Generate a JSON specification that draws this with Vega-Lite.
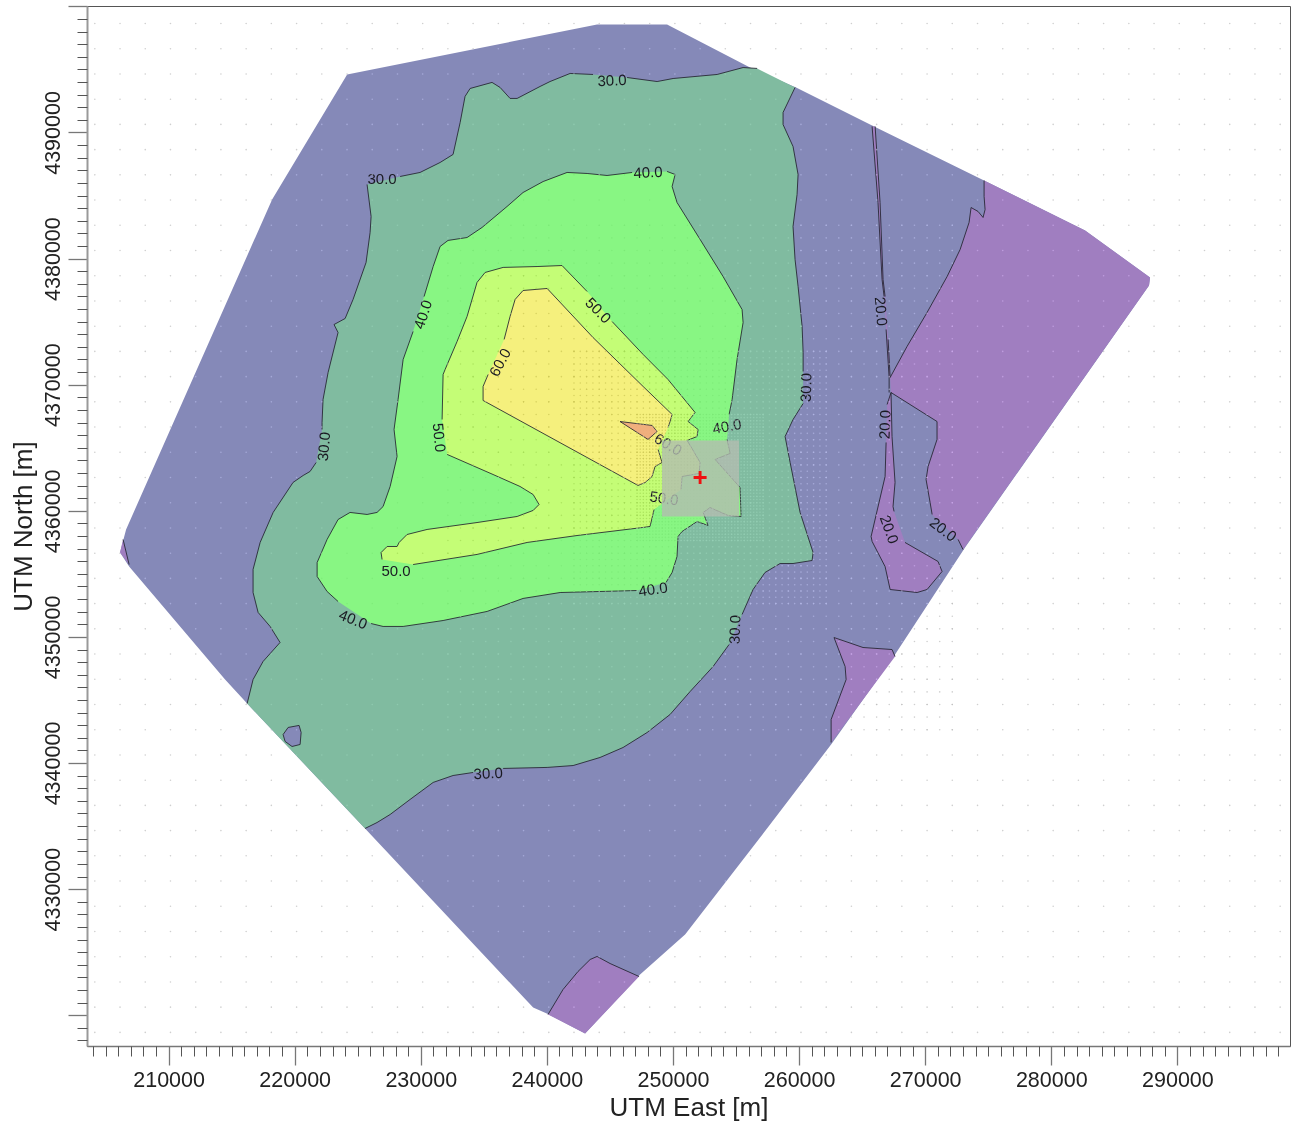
{
"$schema":"https://vega.github.io/schema/vega-lite/v6.json",
"width":1203,"height":1040,
"autosize":{"type":"none"},
"padding":{"left":87,"top":6,"right":1,"bottom":82},
"background":"white",
"config":{"view":{"stroke":"#555","strokeWidth":1}},
"datasets":{
"zones":[
{"z":"20-30","p":"outer","s":0,"x":[243980,249530,256110,259760,265790,274670,282680,287830,287750,273160,267610,262540,257700,250960,247390,243030,240170,238910,225580,216230,214480,206870,206150,206630,218210,224160],"y":[4398560,4398560,4395150,4393570,4390560,4386190,4382230,4378500,4377870,4357090,4348610,4341470,4335120,4326400,4323230,4318550,4320060,4320610,4334810,4344720,4346620,4355580,4356690,4358520,4384690,4394600]},
{"z":"below20","p":"wedge","s":1,"x":[206390,206870],"y":[4357730,4355740]},
{"z":"below20","p":"wedge","s":0,"x":[206150],"y":[4356690]},
{"z":"30-40","p":"green","s":0,"x":[256670],"y":[4395080]},
{"z":"30-40","p":"green","s":2,"x":[259680,258730,258730,259520,259920,259840,259520,259680,259920,260240,260320,260320],"y":[4393570,4391590,4390630,4388890,4386670,4385080,4382550,4379930,4377790,4374620,4372550,4371050]},
{"z":"30-40","p":"green","s":3,"x":[260320,259520,258890,259290,260080,261110,261030,259520,258490,257300,256350,255480],"y":[4368510,4367240,4365890,4363830,4359870,4356690,4356060,4355820,4355820,4355110,4353760,4351780]},
{"z":"30-40","p":"green","s":4,"x":[254450,253180,251360,249770,247950,246040,244220,242080,240020,236530],"y":[4349400,4347650,4345670,4343850,4342420,4341230,4340440,4339800,4339650,4339570]},
{"z":"30-40","p":"green","s":5,"x":[234150,232560,230980,229150,227570,226530,225580],"y":[4339250,4339010,4338460,4337110,4335920,4335280,4334810]},
{"z":"30-40","p":"green","s":6,"x":[216230,216700,217490,218840,218050,217100,216700,216700,217260,218290,219870,220670,221220,221700],"y":[4344720,4346620,4348050,4349560,4350830,4351940,4353520,4355350,4357490,4359870,4362250,4362800,4363120,4363830]},
{"z":"30-40","p":"green","s":7,"x":[222170,222170,222250,222650,223440,223120,224000,224630,225660,225980,226060,225740],"y":[4366450,4367000,4368830,4370970,4374140,4374770,4375250,4376760,4379690,4382070,4383340,4385880]},
{"z":"30-40","p":"green","s":8,"x":[228360,229940,231530,232560,233120,233510,233910,235650,236290,237080,237640,239460,240250,241840,243660],"y":[4386510,4386830,4387620,4388260,4390790,4392860,4393490,4393970,4393570,4392700,4392700,4393650,4394040,4394680,4394600]},
{"z":"30-40","p":"green","s":9,"x":[246360,248740,250010,253500,255560,256670],"y":[4394360,4394040,4394280,4394600,4395150,4395080]},
{"z":"20-30","p":"island","s":10,"x":[219080,219480,220350,220510,220430,219790,219240,219080],"y":[4342260,4342820,4342980,4342420,4341470,4341310,4341710,4342260]},
{"z":"40-50","p":"bright","s":11,"x":[230260,230980,231530,232160,233670,234860,236840,238110,239700,241600,243190,244770,246760],"y":[4376990,4379370,4380960,4381440,4381670,4382470,4384130,4385240,4386110,4386830,4386750,4386590,4386830]},
{"z":"40-50","p":"bright","s":12,"x":[249530,250170,249930,250320,252150,253970,255480,255560,255080,254690,254450],"y":[4386910,4386670,4385720,4384450,4381520,4378580,4375960,4374930,4372000,4368830,4367640]},
{"z":"40-50","p":"bright","s":13,"x":[254290,254530,253340,255320,255400,254370,252940,252390,252780,251910,250720,250400,250320,249930,249450],"y":[4365660,4364550,4364070,4361850,4359550,4359630,4360260,4359870,4358840,4359150,4358360,4357960,4356380,4355110,4354320]},
{"z":"40-50","p":"bright","s":14,"x":[247150,241050,238110,235260,231770,228600,227010,226060],"y":[4353680,4353520,4353050,4352020,4351300,4350830,4350830,4351060]},
{"z":"40-50","p":"bright","s":15,"x":[223440,222570,221780,221780,222570,223440,224390,225740,226530,227010,227570,228120,227880,228200,228600,229390],"y":[4352810,4353600,4354790,4355900,4357730,4359310,4359870,4359710,4359870,4360340,4361930,4364310,4366450,4368830,4372000,4374220]},
{"z":"50-60","p":"yg","s":16,"x":[231690,231770,231930,232880,233670,234460,235100,236530,239220,241200,243190],"y":[4367240,4370810,4371210,4373430,4375410,4378110,4378900,4379300,4379370,4379450,4377390]},
{"z":"50-60","p":"yg","s":17,"x":[245170,247630,249610,251750,251200,251990,251910,251120,251510,252150,252070,250720,250640],"y":[4375010,4372400,4370410,4367800,4367080,4366450,4365890,4365580,4364940,4363830,4362960,4362720,4361690]},
{"z":"50-60","p":"yg","s":18,"x":[248500,248180,247630,242390,238430,234460,229390],"y":[4360100,4358760,4358680,4358040,4357490,4356540,4355740]},
{"z":"50-60","p":"yg","s":19,"x":[226930,226850,227330,228120,228280,228910,230500,234460,237640,238910,239380,238910,237870,235730,232090],"y":[4356140,4356690,4357170,4357170,4357490,4358120,4358520,4359070,4359550,4360030,4360500,4361290,4361930,4362880,4364470]},
{"z":"60-70","p":"yellow","s":20,"x":[236610,237080,237480,238110,240020,243660,247630,249930,249770,249610],"y":[4373590,4375410,4376760,4377470,4377630,4373740,4369860,4367640,4367080,4366610]},
{"z":"60-70","p":"yellow","s":21,"x":[248820,249130,248580,248340,247790,247230,234940,234940,235340],"y":[4364860,4363830,4363510,4362720,4362240,4362010,4368750,4369860,4370810]},
{"z":"above70","p":"orange","s":22,"x":[245800,248340,248740,248020,245800],"y":[4367080,4366770,4366290,4365660,4367080]},
{"z":"below20","p":"p1","s":23,"x":[274670,274670,274750,274590,274190,273640,273480,272770,271740,270150,268560,267220],"y":[4386190,4384930,4383890,4383260,4383740,4384050,4382860,4380720,4378580,4375730,4373030,4370570]},
{"z":"below20","p":"p1","s":24,"x":[267290,270940,270940,270230,270070,270390,270550],"y":[4369380,4367080,4365660,4363510,4362480,4360660,4359710]},
{"z":"below20","p":"p1","s":25,"x":[272610,273000],"y":[4357730,4356930]},
{"z":"below20","p":"p1","s":0,"x":[287750,287830,282680],"y":[4377870,4378500,4382230]},
{"z":"below20","p":"p2","s":26,"x":[267290,266980],"y":[4369380,4368430]},
{"z":"below20","p":"p2","s":27,"x":[266900,266820,265710,265790,266820,267220,269360,270150,271340,271020,268400],"y":[4365420,4362720,4357960,4357570,4355580,4353760,4353520,4353760,4355190,4355980,4357490]},
{"z":"below20","p":"p2","s":28,"x":[267530,267450,267610,267370,267290],"y":[4359950,4360340,4362250,4365890,4369380]},
{"z":"below20","p":"p3","s":29,"x":[262770,265070,267370,267610],"y":[4349950,4349160,4349000,4348450]},
{"z":"below20","p":"p3","s":30,"x":[262540,262540,263730,263650,262770],"y":[4341630,4343450,4346620,4347650,4349950]},
{"z":"below20","p":"p4","s":31,"x":[240090,241280,242470,243430,243980,245010,247310],"y":[4320060,4322040,4323470,4324420,4324660,4324100,4323070]},
{"z":"below20","p":"p4","s":0,"x":[243030],"y":[4318550]},
{"z":"below20","p":"sliver","s":32,"x":[265790,266260,266580,266740],"y":[4390480,4384450,4378340,4376990]},
{"z":"below20","p":"sliver","s":33,"x":[266900,267140],"y":[4374380,4370570]},
{"z":"below20","p":"sliver","s":34,"x":[267220,267060],"y":[4370570,4373590]},
{"z":"below20","p":"sliver","s":35,"x":[266820,266660,266420,266030],"y":[4376990,4378340,4384450,4390480]},
{"z":"below20","p":"join","s":36,"x":[267140,267140],"y":[4370570,4369380]}
],
"labels":[
{"t":"30.0","x":245170,"y":4394120,"a":-3},
{"t":"30.0","x":226930,"y":4386350,"a":0},
{"t":"40.0","x":248020,"y":4386830,"a":-3},
{"t":"40.0","x":230180,"y":4375570,"a":-72},
{"t":"50.0","x":244060,"y":4375890,"a":45},
{"t":"60.0","x":236290,"y":4371760,"a":-62},
{"t":"50.0","x":231450,"y":4365810,"a":85},
{"t":"30.0","x":222330,"y":4365100,"a":-85},
{"t":"40.0","x":254290,"y":4366690,"a":-10},
{"t":"60.0","x":249610,"y":4365260,"a":30},
{"t":"50.0","x":249290,"y":4360980,"a":8},
{"t":"40.0","x":248420,"y":4353760,"a":-8},
{"t":"50.0","x":228040,"y":4355190,"a":0},
{"t":"40.0","x":224630,"y":4351380,"a":22},
{"t":"30.0","x":235340,"y":4339170,"a":-3},
{"t":"30.0","x":254920,"y":4350590,"a":-88},
{"t":"30.0","x":260560,"y":4369780,"a":-88},
{"t":"20.0","x":266500,"y":4375810,"a":85},
{"t":"20.0","x":266820,"y":4366840,"a":-88},
{"t":"20.0","x":267140,"y":4358520,"a":70},
{"t":"20.0","x":271420,"y":4358520,"a":38}
],
"grid":[
{"xs":[204150,206150,208150,210150,212150,214150,216150,218150,220150,222150,224150,226150,228150,230150,232150,234150,236150,238150,240150,242150,244150,246150,248150,250150,252150,254150,256150,258150,260150,262150,264150,266150,268150,270150,272150,274150,276150,278150,280150,282150,284150,286150,288150,290150,292150,294150,296150,298150],"ys":[4318640,4320640,4322640,4324640,4326640,4328640,4330640,4332640,4334640,4336640,4338640,4340640,4342640,4344640,4346640,4348640,4350640,4352640,4354640,4356640,4358640,4360640,4362640,4364640,4366640,4368640,4370640,4372640,4374640,4376640,4378640,4380640,4382640,4384640,4386640,4388640,4390640,4392640,4394640,4396640,4398640]},
{"xs":[232150,233150,234150,235150,236150,237150,238150,239150,240150,241150,242150,243150,244150,245150,246150,247150,248150,249150,250150,251150,252150,253150,254150,255150,256150,257150,258150,259150,260150,261150,262150,263150,264150,265150,266150,267150,268150,269150,270150,271150,272150],"ys":[4342640,4343640,4344640,4345640,4346640,4347640,4348640,4349640,4350640,4351640,4352640,4353640,4354640,4355640,4356640,4357640,4358640,4359640,4360640,4361640,4362640,4363640,4364640,4365640,4366640,4367640,4368640,4369640,4370640,4371640,4372640,4373640,4374640,4375640,4376640,4377640,4378640,4379640,4380640,4381640,4382640]},
{"xs":[242150,242650,243150,243650,244150,244650,245150,245650,246150,246650,247150,247650,248150,248650,249150,249650,250150,250650,251150,251650,252150,252650,253150,253650,254150,254650,255150,255650,256150,256650,257150,257650,258150,258650,259150,259650,260150,260650,261150,261650,262150],"ys":[4352640,4353140,4353640,4354140,4354640,4355140,4355640,4356140,4356640,4357140,4357640,4358140,4358640,4359140,4359640,4360140,4360640,4361140,4361640,4362140,4362640,4363140,4363640,4364140,4364640,4365140,4365640,4366140,4366640,4367140,4367640,4368140,4368640,4369140,4369640,4370140,4370640,4371140,4371640,4372140,4372640]},
{"xs":[247150,247400,247650,247900,248150,248400,248650,248900,249150,249400,249650,249900,250150,250400,250650,250900,251150,251400,251650,251900,252150,252400,252650,252900,253150,253400,253650,253900,254150,254400,254650,254900,255150,255400,255650,255900,256150,256400,256650,256900,257150],"ys":[4357640,4357890,4358140,4358390,4358640,4358890,4359140,4359390,4359640,4359890,4360140,4360390,4360640,4360890,4361140,4361390,4361640,4361890,4362140,4362390,4362640,4362890,4363140,4363390,4363640,4363890,4364140,4364390,4364640,4364890,4365140,4365390,4365640,4365890,4366140,4366390,4366640,4366890,4367140,4367390,4367640]}
],
"box":[{"x":249130,"x2":255240,"y":4365580,"y2":4359550}],
"source":[{"x":252150,"y":4362640}]
},
"layer":[
{"data":{"name":"zones"},"transform":[{"flatten":["x","y"]},{"window":[{"op":"row_number","as":"i"}]}],
"mark":{"type":"line","strokeWidth":0,"interpolate":"linear"},
"encoding":{
"x":{"field":"x","type":"quantitative","scale":{"domain":[203530,298930],"nice":false,"zero":false},
"axis":{"orient":"bottom","values":[210000,220000,230000,240000,250000,260000,270000,280000,290000],"format":"d","grid":false,"title":"UTM East [m]","titleFont":"Liberation Sans","titleFontSize":26,"titleFontWeight":"normal","titleColor":"#222","titlePadding":4,"labelFont":"Liberation Sans","labelFontSize":21.5,"labelColor":"#222","labelPadding":4,"tickSize":19,"tickColor":"#777","tickWidth":1.3,"domainColor":"#777","domainWidth":1.5}},
"y":{"field":"y","type":"quantitative","scale":{"domain":[4317560,4400030],"nice":false,"zero":false},
"axis":{"orient":"left","values":[4330000,4340000,4350000,4360000,4370000,4380000,4390000,4320000,4400000],"labelExpr":"datum.value==4320000||datum.value==4400000?'':format(datum.value,'d')","grid":false,"title":"UTM North [m]","titleFont":"Liberation Sans","titleFontSize":26,"titleFontWeight":"normal","titleColor":"#222","titlePadding":6,"labelFont":"Liberation Sans","labelFontSize":21.5,"labelColor":"#222","labelAngle":-90,"labelAlign":"center","labelBaseline":"bottom","labelPadding":4,"tickSize":19,"tickColor":"#777","tickWidth":1.3,"domainColor":"#999","domainWidth":2}},
"fill":{"field":"z","type":"nominal","legend":null,"scale":{"domain":["below20","20-30","30-40","40-50","50-60","60-70","above70"],"range":["#a07ec0","#8589b8","#80bba0","#88f683","#c4fd76","#f5f07d","#f0af7d"]}},
"detail":{"field":"p"},
"order":{"field":"i","type":"quantitative"}
}},
{"data":{"name":"zones"},"transform":[{"flatten":["x","y"]},{"window":[{"op":"row_number","as":"i"}]},{"filter":"datum.s>0"}],
"mark":{"type":"line","color":"#22222e","strokeWidth":0.85,"interpolate":"linear"},
"encoding":{
"x":{"field":"x","type":"quantitative","scale":{"domain":[203530,298930],"nice":false,"zero":false},
"axis":{"orient":"bottom","values":[204000,205000,206000,207000,208000,209000,211000,212000,213000,214000,215000,216000,217000,218000,219000,221000,222000,223000,224000,225000,226000,227000,228000,229000,231000,232000,233000,234000,235000,236000,237000,238000,239000,241000,242000,243000,244000,245000,246000,247000,248000,249000,251000,252000,253000,254000,255000,256000,257000,258000,259000,261000,262000,263000,264000,265000,266000,267000,268000,269000,271000,272000,273000,274000,275000,276000,277000,278000,279000,281000,282000,283000,284000,285000,286000,287000,288000,289000,291000,292000,293000,294000,295000,296000,297000,298000],"labels":false,"title":null,"grid":false,"domain":false,"tickSize":10,"tickColor":"#555","tickWidth":1}},
"y":{"field":"y","type":"quantitative","scale":{"domain":[4317560,4400030],"nice":false,"zero":false},
"axis":{"orient":"left","values":[4318000,4319000,4321000,4322000,4323000,4324000,4325000,4326000,4327000,4328000,4329000,4331000,4332000,4333000,4334000,4335000,4336000,4337000,4338000,4339000,4341000,4342000,4343000,4344000,4345000,4346000,4347000,4348000,4349000,4351000,4352000,4353000,4354000,4355000,4356000,4357000,4358000,4359000,4361000,4362000,4363000,4364000,4365000,4366000,4367000,4368000,4369000,4371000,4372000,4373000,4374000,4375000,4376000,4377000,4378000,4379000,4381000,4382000,4383000,4384000,4385000,4386000,4387000,4388000,4389000,4391000,4392000,4393000,4394000,4395000,4396000,4397000,4398000,4399000],"labels":false,"title":null,"grid":false,"domain":false,"tickSize":10,"tickColor":"#555","tickWidth":1}},
"detail":{"field":"s"},
"order":{"field":"i","type":"quantitative"}
}},
{"data":{"name":"labels"},
"mark":{"type":"text","font":"Liberation Sans","fontSize":15,"color":"#1a1a22","align":"center","baseline":"middle"},
"encoding":{
"x":{"field":"x","type":"quantitative","axis":null,"scale":{"domain":[203530,298930],"nice":false,"zero":false}},
"y":{"field":"y","type":"quantitative","axis":null,"scale":{"domain":[4317560,4400030],"nice":false,"zero":false}},
"text":{"field":"t"},
"angle":{"field":"a","type":"quantitative","scale":null}
}},
{"data":{"name":"grid"},"transform":[{"flatten":["xs"],"as":["x"]},{"flatten":["ys"],"as":["y"]}],
"mark":{"type":"point","filled":true,"size":2.5,"color":"#bbbbbb","opacity":0.7,"strokeWidth":0,"blend":"luminosity"},
"encoding":{
"x":{"field":"x","type":"quantitative","axis":null,"scale":{"domain":[203530,298930],"nice":false,"zero":false}},
"y":{"field":"y","type":"quantitative","axis":null,"scale":{"domain":[4317560,4400030],"nice":false,"zero":false}}
}},
{"data":{"name":"box"},
"mark":{"type":"rect","color":"#b3bdb0","opacity":0.8},
"encoding":{
"x":{"field":"x","type":"quantitative","axis":null,"scale":{"domain":[203530,298930],"nice":false,"zero":false}},
"x2":{"field":"x2"},
"y":{"field":"y","type":"quantitative","axis":null,"scale":{"domain":[4317560,4400030],"nice":false,"zero":false}},
"y2":{"field":"y2"}
}},
{"data":{"name":"source"},
"mark":{"type":"point","shape":"M-0.22,-1H0.22V-0.22H1V0.22H0.22V1H-0.22V0.22H-1V-0.22H-0.22Z","filled":true,"size":169,"color":"#ee1111","opacity":1,"strokeWidth":0},
"encoding":{
"x":{"field":"x","type":"quantitative","axis":null,"scale":{"domain":[203530,298930],"nice":false,"zero":false}},
"y":{"field":"y","type":"quantitative","axis":null,"scale":{"domain":[4317560,4400030],"nice":false,"zero":false}}
}}
],
"resolve":{"axis":{"x":"independent","y":"independent"}}
}
